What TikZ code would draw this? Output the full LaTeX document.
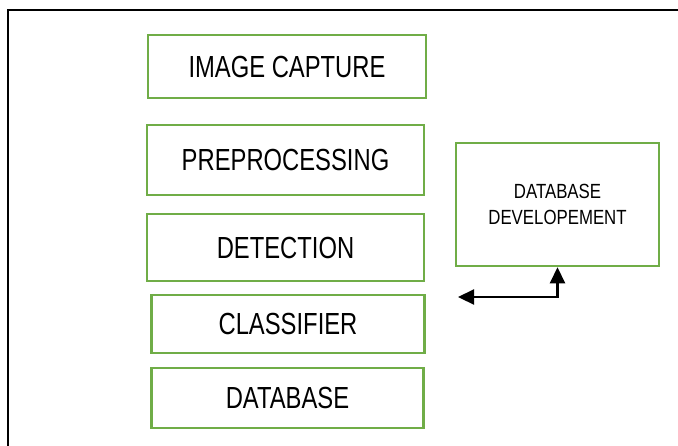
\documentclass[tikz,border=0pt]{standalone}
\usepackage{fontspec}
\setmainfont{Liberation Sans}
\newfontfamily\bigfont[FakeStretch=0.78]{Liberation Sans}
\newfontfamily\smallfont[FakeStretch=0.82]{Liberation Sans}
\usetikzlibrary{arrows.meta}
\definecolor{boxgreen}{HTML}{70AD47}
\begin{document}
\begin{tikzpicture}[x=1pt,y=-1pt,
  box/.style={draw=boxgreen, line width=2.5pt, inner sep=0pt, text=black},
  bigtext/.style={font=\bigfont\fontsize{30.5}{36}\selectfont},
  smalltext/.style={font=\smallfont\fontsize{20.5}{26}\selectfont, align=center},
  link/.style={line width=2.2pt, {Triangle[length=16pt,width=15pt]}-{Triangle[length=16pt,width=15pt]}}]
\useasboundingbox (0,0) rectangle (678,445);
\draw[line width=2pt] (8,460) -- (8,10) -- (700,10);
\node[box, bigtext, minimum width=278pt, minimum height=63pt] (cap) at (287,66.5) {IMAGE CAPTURE};
\node[box, bigtext, minimum width=277pt, minimum height=70pt] (pre) at (285.5,160) {PREPROCESSING};
\node[box, bigtext, minimum width=277pt, minimum height=67pt] (det) at (285.5,247.5) {DETECTION};
\node[box, bigtext, minimum width=273pt, minimum height=58pt] (cls) at (288,324) {CLASSIFIER};
\node[box, bigtext, minimum width=272pt, minimum height=60pt] (db) at (287.5,398) {DATABASE};
\node[box, smalltext, minimum width=203pt, minimum height=123pt] (dev) at (557.5,204.5) {DATABASE\\DEVELOPEMENT};
\coordinate (ae) at (458,297);
\draw[link] (ae) -| (dev.south);
\end{tikzpicture}
\end{document}
